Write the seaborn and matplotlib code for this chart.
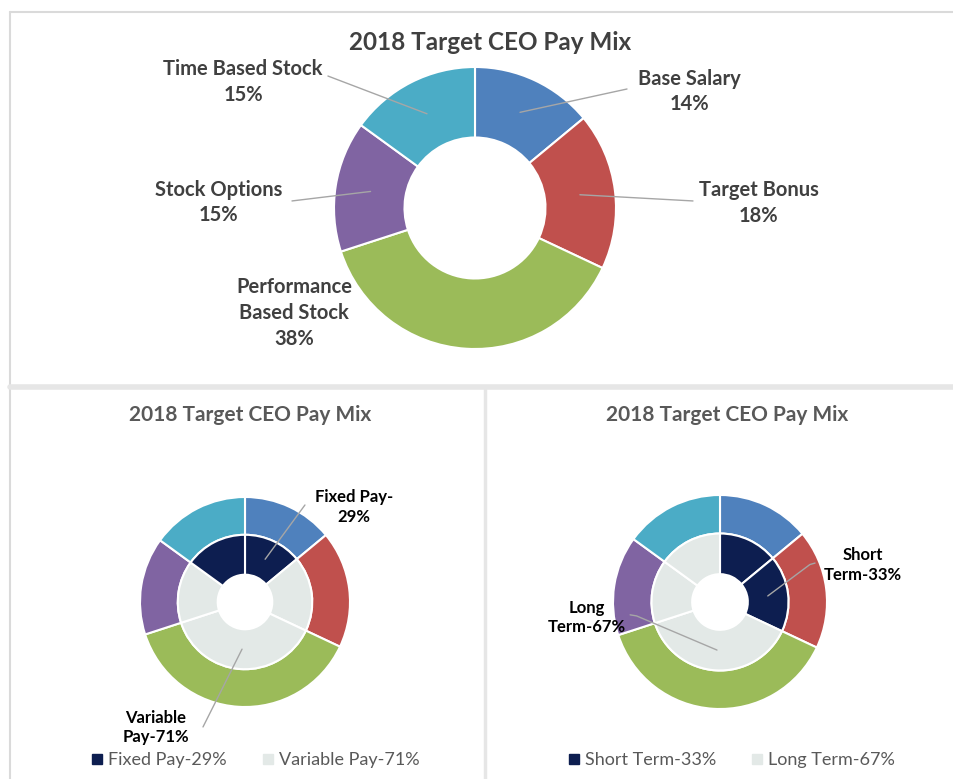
import numpy as np
import seaborn as sns
import matplotlib.pyplot as plt
from matplotlib.lines import Line2D

sns.set_style("white")
plt.rcParams['font.family'] = ['Lato', 'DejaVu Sans']

# ---- data ----
chart_title = "2018 Target CEO Pay Mix"
components = ["Base Salary", "Target Bonus", "Performance\nBased Stock", "Stock Options", "Time Based Stock"]
shares = [14, 18, 38, 15, 15]
component_colors = ["#4F81BD", "#C0504D", "#9BBB59", "#8064A2", "#4BACC6"]

pay_labels = ["Fixed Pay-29%", "Variable Pay-71%"]
pay_group = [0, 1, 1, 1, 0]          # which pay type each component belongs to
term_labels = ["Short Term-33%", "Long Term-67%"]
term_group = [0, 0, 1, 1, 1]

group_colors = ["#0D1E50", "#E3E9E7"]
text_gray = "#404040"
line_gray = "#A6A6A6"

W, H = 954, 779
fig = plt.figure(figsize=(W / 100, H / 100), dpi=100)
fig.patch.set_facecolor("white")


def donut_axes(cx, cy, R, half):
    ax = fig.add_axes([(cx - half) / W, 1 - (cy + half) / H, 2 * half / W, 2 * half / H])
    return ax, half / R


def mid_point(i, r):
    cum = np.cumsum([0] + shares)
    f = (cum[i] + cum[i + 1]) / 2 / cum[-1]
    th = 2 * np.pi * f
    return r * np.sin(th), r * np.cos(th)


def leader(ax, start, i, r, bend=None):
    x1, y1 = mid_point(i, r)
    xs, ys = [start[0]], [start[1]]
    if bend is not None:
        xs.append(bend[0]); ys.append(bend[1])
    xs.append(x1); ys.append(y1)
    ax.plot(xs, ys, color=line_gray, lw=1, clip_on=False, zorder=5)


def finish(ax, lim):
    ax.set_xlim(-lim, lim)
    ax.set_ylim(-lim, lim)
    ax.set_aspect("equal", adjustable="box")
    ax.axis("off")


# ---- panel borders ----
border = "#DADADA"
fig.add_artist(Line2D([10 / W, 1], [1 - 12 / H] * 2, color=border, lw=1.5))
fig.add_artist(Line2D([10 / W] * 2, [1 - 12 / H, 0], color=border, lw=1.5))
fig.add_artist(Line2D([10 / W, 1], [1 - 387 / H] * 2, color="#E6E6E6", lw=4))
fig.add_artist(Line2D([485 / W] * 2, [1 - 389 / H, 0], color="#E6E6E6", lw=2.5))

# ---- top: single donut ----
ax, lim = donut_axes(475, 208, 141, 150)
ax.pie(shares, colors=component_colors, startangle=90, counterclock=False,
       wedgeprops=dict(width=0.5, edgecolor="white", linewidth=1.5))
finish(ax, lim)
fig.text(490 / W, 1 - 43 / H, chart_title, ha="center", va="center",
         fontsize=17.5, fontweight="bold", color=text_gray)

top_text_pos = [(1.518, 0.826), (2.014, 0.035), (-1.284, -0.745), (-1.816, 0.039), (-1.645, 0.894)]
top_leader_start = [(1.078, 0.844), (1.546, 0.05), None, (-1.298, 0.05), (-1.043, 0.936)]
for i, name in enumerate(components):
    ax.text(*top_text_pos[i], f"{name}\n{shares[i]}%", ha="center", va="center",
            fontsize=14.5, fontweight="bold", color=text_gray, linespacing=1.35)
    if top_leader_start[i] is not None:
        leader(ax, top_leader_start[i], i, 0.75)


# ---- bottom: nested donuts ----
def nested(cx, cy, R, groups, title_x, group_names, texts, legend_x):
    ax, lim = donut_axes(cx, cy, R, 112)
    ax.pie(shares, colors=component_colors, startangle=90, counterclock=False, radius=1.0,
           wedgeprops=dict(width=0.36, edgecolor="white", linewidth=1.5))
    ax.pie(shares, colors=[group_colors[g] for g in groups], startangle=90, counterclock=False,
           radius=0.64, wedgeprops=dict(width=0.38, edgecolor="white", linewidth=1.5))
    finish(ax, lim)
    fig.text(title_x / W, 1 - 415 / H, chart_title, ha="center", va="center",
             fontsize=15, fontweight="bold", color="#595959")
    for txt, pos, start, bend, i in texts:
        ax.text(*pos, txt, ha="center", va="center", fontsize=12, fontweight="bold",
                color="black", linespacing=1.3)
        leader(ax, start, i, 0.45, bend)
    handles = [Line2D([0], [0], marker="s", ls="", color=c, markersize=7) for c in group_colors]
    ax.legend(handles, group_names, loc="center", bbox_to_anchor=(legend_x / W, 1 - 760 / H),
              bbox_transform=fig.transFigure, ncol=2, frameon=False, fontsize=13,
              handletextpad=0.1, columnspacing=1.8, labelcolor="#595959", handlelength=1.0)


nested(245, 602, 105, pay_group, 250, pay_labels,
       [("Fixed Pay-\n29%", (1.038, 0.905), (0.571, 0.924), None, 0),
        ("Variable\nPay-71%", (-0.848, -1.195), (-0.40, -1.19), None, 2)], 254)
nested(720, 602, 107, term_group, 727, term_labels,
       [("Short\nTerm-33%", (1.336, 0.346), (0.888, 0.364), (0.84, 0.35), 1),
        ("Long\nTerm-67%", (-1.243, -0.145), (-0.84, -0.12), (-0.78, -0.13), 2)], 730)

fig.savefig("out.png", dpi=100, facecolor="white")
